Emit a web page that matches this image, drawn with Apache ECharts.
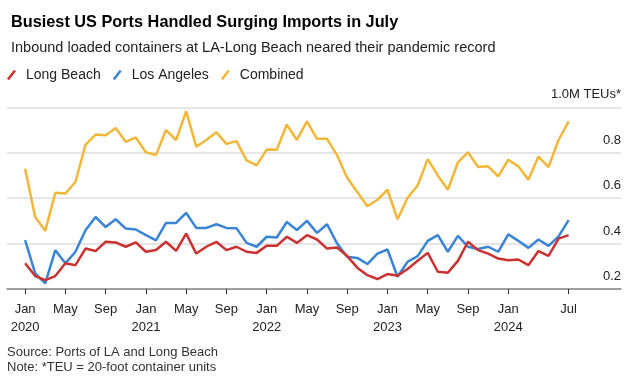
<!DOCTYPE html>
<html>
<head>
<meta charset="utf-8">
<script src="https://cdn.jsdelivr.net/npm/echarts@6/dist/echarts.min.js"></script>
<style>
html,body{margin:0;padding:0;background:#fff;}
#chart{width:634px;height:379px;}
</style>
</head>
<body>
<div id="chart"></div>
<script>
// Month index 0 = Jan 2020 ... 54 = Jul 2024
var startYear = 2020;
var monthNames = ['Jan','Feb','Mar','Apr','May','Jun','Jul','Aug','Sep','Oct','Nov','Dec'];
var tickMonths = [0,4,8,12,16,20,24,28,32,36,40,44,48,54];
var yTicks = [0.2,0.4,0.6,0.8,1.0];

var longBeach = [0.313,0.257,0.239,0.257,0.313,0.305,0.378,0.367,0.408,0.405,0.386,0.405,
  0.364,0.372,0.408,0.368,0.444,0.356,0.386,0.408,0.371,0.386,0.364,0.359,
  0.390,0.390,0.430,0.403,0.437,0.418,0.378,0.383,0.345,0.294,0.261,0.244,
  0.266,0.258,0.288,0.324,0.359,0.276,0.272,0.324,0.408,0.371,0.356,0.334,
  0.327,0.330,0.305,0.367,0.346,0.422,0.437];
var losAngeles = [0.415,0.269,0.225,0.371,0.313,0.364,0.459,0.517,0.473,0.507,0.466,0.462,
  0.437,0.414,0.491,0.491,0.535,0.469,0.469,0.485,0.469,0.468,0.403,0.386,
  0.430,0.427,0.495,0.460,0.500,0.447,0.485,0.400,0.342,0.337,0.310,0.356,
  0.374,0.254,0.320,0.345,0.412,0.437,0.364,0.434,0.386,0.376,0.386,0.364,
  0.441,0.412,0.381,0.418,0.390,0.432,0.503];
var combined = [0.729,0.517,0.456,0.624,0.620,0.671,0.835,0.880,0.877,0.909,0.848,0.867,
  0.802,0.790,0.900,0.856,0.982,0.827,0.856,0.890,0.839,0.851,0.766,0.744,
  0.814,0.813,0.924,0.856,0.938,0.861,0.861,0.788,0.690,0.627,0.564,0.593,
  0.637,0.507,0.602,0.656,0.772,0.700,0.637,0.758,0.802,0.737,0.740,0.696,
  0.769,0.740,0.681,0.783,0.737,0.856,0.938];

function pairs(arr){ return arr.map(function(v,i){ return [i, v]; }); }

var FONT = "'Liberation Sans', Arial, sans-serif";
var slash = 'path://M0,9 L7,0 L9,1.6 L2,10.6 Z';

var chart = echarts.init(document.getElementById('chart'), null, {renderer:'canvas'});
chart.setOption({
  animation: false,
  backgroundColor: '#fff',
  textStyle: {fontFamily: FONT},
  title: [
    {text: 'Busiest US Ports Handled Surging Imports in July', left: 6, top: 10,
     textStyle: {fontFamily: FONT, fontWeight: 'bold', fontSize: 16.3, color: '#000'}},
    {text: 'Inbound loaded containers at LA-Long Beach neared their pandemic record', left: 6, top: 35,
     textStyle: {fontFamily: FONT, fontWeight: 'normal', fontSize: 14.5, color: '#222'}}
  ],
  legend: {
    left: 2, top: 63, itemWidth: 9, itemHeight: 11, itemGap: 12,
    textStyle: {fontFamily: FONT, fontSize: 14, color: '#222', padding: [0,0,0,5]},
    data: [
      {name: 'Long Beach', icon: slash},
      {name: 'Los Angeles', icon: slash},
      {name: 'Combined', icon: slash}
    ]
  },
  grid: {left: 7, right: 13, top: 107.3, bottom: 90, containLabel: false},
  xAxis: {
    type: 'value', min: -1.8, max: 59.2,
    splitLine: {show: false},
    axisLine: {show: true, lineStyle: {color: '#888', width: 1.5}},
    axisTick: {show: true, customValues: tickMonths, length: 5, lineStyle: {color: '#333', width: 1}},
    axisLabel: {
      customValues: tickMonths, margin: 11, fontSize: 13, lineHeight: 18, color: '#222', fontFamily: FONT,
      formatter: function(v){
        var m = Math.round(v) % 12;
        var y = startYear + Math.floor(Math.round(v) / 12);
        return m === 0 ? monthNames[m] + '\n' + y : monthNames[m];
      }
    }
  },
  yAxis: {
    type: 'value', position: 'right', min: 0.2, max: 1.0, interval: 0.2,
    axisLine: {show: false}, axisTick: {show: false},
    splitLine: {show: true, lineStyle: {color: '#dcdcdc', width: 1.5}},
    axisLabel: {
      inside: true, fontSize: 13, color: '#222', fontFamily: FONT,
      verticalAlign: 'bottom', align: 'right', padding: [0,0,6,0], margin: 0,
      formatter: function(v){ return Math.abs(v - 1) < 1e-6 ? '1.0M TEUs*' : v.toFixed(1); }
    }
  },
  series: [
    {name: 'Combined', type: 'line', data: pairs(combined), showSymbol: false, symbol: 'none',
     lineStyle: {color: '#f2b73a', width: 2.5}, itemStyle: {color: '#f2b73a'}},
    {name: 'Los Angeles', type: 'line', data: pairs(losAngeles), showSymbol: false, symbol: 'none',
     lineStyle: {color: '#3a84d6', width: 2.5}, itemStyle: {color: '#3a84d6'}},
    {name: 'Long Beach', type: 'line', data: pairs(longBeach), showSymbol: false, symbol: 'none',
     lineStyle: {color: '#cc3131', width: 2.5}, itemStyle: {color: '#cc3131'}}
  ],
  graphic: [
    {type: 'text', left: 7, top: 346, style: {text: 'Source: Ports of LA and Long Beach', font: '13px ' + FONT, fill: '#333'}},
    {type: 'text', left: 7, top: 361, style: {text: 'Note: *TEU = 20-foot container units', font: '13px ' + FONT, fill: '#333'}}
  ]
});
</script>
</body>
</html>
